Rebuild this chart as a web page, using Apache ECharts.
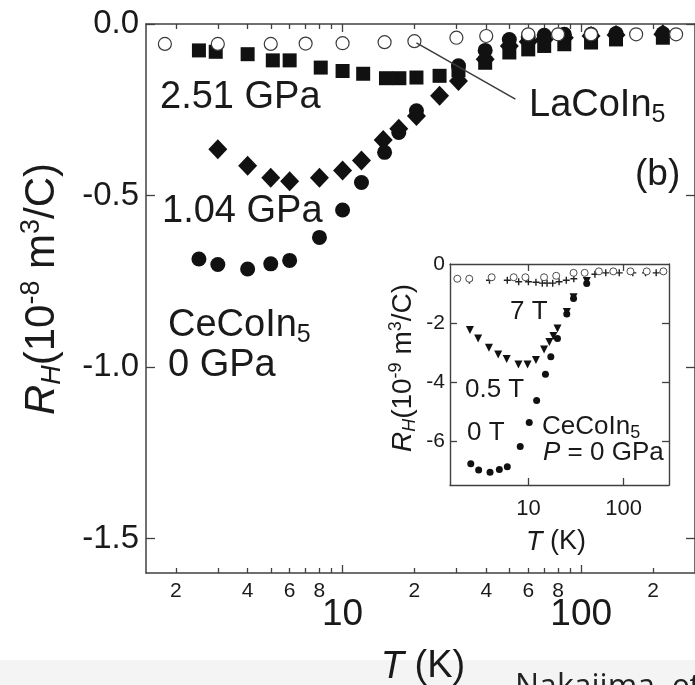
<!DOCTYPE html>
<html>
<head>
<meta charset="utf-8">
<script src="https://cdn.jsdelivr.net/npm/echarts@6/dist/echarts.min.js"></script>
<style>
html, body { margin: 0; padding: 0; background: #fff; }
#main { width: 695px; height: 685px; }
</style>
</head>
<body>
<div id="main"></div>
<script>
// ---- main panel (b): R_H (1e-8 m3/C) vs T (K) ----
var laT = [1.8, 3, 5, 7, 10, 15, 20, 30, 40, 60, 80, 110, 170, 250];
var laR = [-0.058, -0.058, -0.058, -0.057, -0.056, -0.053, -0.05, -0.04, -0.035, -0.03, -0.03, -0.03, -0.03, -0.03];

var p251T = [2.5, 2.94, 4.0, 5.1, 6.0, 8.1, 10, 12.2, 15.2, 17.3, 20.4, 25.5, 30.6, 39.6, 50, 60, 70, 85, 110, 140, 220];
var p251R = [-0.077, -0.081, -0.088, -0.106, -0.106, -0.127, -0.137, -0.145, -0.158, -0.158, -0.156, -0.151, -0.135, -0.113, -0.083, -0.074, -0.064, -0.059, -0.054, -0.045, -0.04];

var p104T = [3.0, 4.0, 5.0, 6.0, 8.0, 10, 12, 14.8, 17.2, 20.4, 25.5, 30.6, 39.6, 50, 60, 70, 85, 110, 140, 220];
var p104R = [-0.365, -0.413, -0.448, -0.458, -0.448, -0.427, -0.398, -0.338, -0.305, -0.268, -0.209, -0.166, -0.103, -0.064, -0.052, -0.045, -0.04, -0.035, -0.032, -0.03];

var p0T = [2.5, 3.0, 4.0, 5.0, 6.0, 8.0, 10, 12, 15, 17.2, 20.4, 30.6, 39.6, 50, 60, 70, 85, 110, 140, 220];
var p0R = [-0.685, -0.701, -0.714, -0.699, -0.689, -0.622, -0.542, -0.462, -0.374, -0.316, -0.253, -0.122, -0.077, -0.045, -0.038, -0.033, -0.03, -0.03, -0.028, -0.028];

// ---- inset: CeCoIn5, P = 0 GPa, R_H (1e-9 m3/C) ----
var in0T = [2.48, 3.0, 3.95, 4.95, 6.0, 8.2, 10.2, 12.2, 15.1, 17.2, 20.2, 25.3, 29.8, 41];
var in0R = [-6.78, -6.99, -7.07, -6.97, -6.88, -6.19, -5.38, -4.63, -3.74, -3.15, -2.53, -1.70, -1.17, -0.66];
var in05T = [2.43, 2.96, 3.85, 4.81, 5.91, 7.85, 9.8, 12.0, 14.6, 16.6, 18.3, 20.2, 25.3, 29.8, 41];
var in05R = [-2.24, -2.53, -2.84, -3.07, -3.22, -3.41, -3.41, -3.26, -2.90, -2.65, -2.44, -2.19, -1.63, -1.13, -0.58];
var in7T = [2.4, 3.9, 6.0, 7.9, 10, 12, 14, 15.7, 18, 21, 25, 30, 50, 65, 90, 125, 170, 220];
var in7R = [-0.55, -0.55, -0.55, -0.6, -0.6, -0.62, -0.65, -0.65, -0.65, -0.6, -0.55, -0.5, -0.35, -0.3, -0.3, -0.3, -0.3, -0.3];
var inLaT = [1.79, 2.39, 4.11, 7.0, 9.3, 14.6, 19.6, 29.8, 39, 55, 78, 118, 175, 262];
var inLaR = [-0.5, -0.5, -0.45, -0.45, -0.45, -0.45, -0.4, -0.3, -0.3, -0.25, -0.25, -0.25, -0.25, -0.25];

// tick positions
var minorTicks = [2, 3, 4, 5, 6, 7, 8, 9, 20, 30, 40, 50, 60, 70, 80, 90, 200];
var smallLabels = [2, 4, 6, 8, 20, 40, 60, 80, 200];
var decadeTicks = [10, 100];
var mainYTicks = [0, -0.5, -1.0, -1.5];
var insetYTicks = [-2, -4, -6];
var insetYLabels = [0, -2, -4, -6];

function pairs(xs, ys) {
    var out = [];
    for (var i = 0; i < xs.length; i++) out.push([xs[i], ys[i]]);
    return out;
}

var FONT = 'Liberation Sans, Arial, sans-serif';
var INK = '#1a1a1a';
var LINE = '#404040';
var DOT = '#111';

function xLog(grid, pos, ticks, len, extra) {
    var ax = {
        type: 'log', logBase: 10, gridIndex: grid, position: pos,
        min: 1.5, max: 300,
        axisLine: { show: true, onZero: false, lineStyle: { color: LINE, width: 1.5 } },
        axisTick: { show: true, inside: true, length: len, customValues: ticks, lineStyle: { color: LINE, width: 1.3 } },
        axisLabel: { show: false },
        splitLine: { show: false },
        minorTick: { show: false }
    };
    for (var k in extra) ax[k] = extra[k];
    return ax;
}

function yVal(grid, pos, min, ticks, len, width, label) {
    return {
        type: 'value', gridIndex: grid, position: pos, min: min, max: 0,
        axisLine: { show: true, onZero: false, lineStyle: { color: LINE, width: width } },
        axisTick: { show: true, inside: true, length: len, customValues: ticks, lineStyle: { color: LINE, width: 1.3 } },
        axisLabel: label || { show: false },
        splitLine: { show: false }
    };
}

function leadDigit(v) {
    var p = Math.pow(10, Math.floor(Math.log10(v) + 1e-9));
    return String(Math.round(v / p));
}

var dom = document.getElementById('main');
var myChart = echarts.init(dom, null, { renderer: 'canvas' });

var option = {
    animation: false,
    backgroundColor: '#fff',
    grid: [
        { left: 146, top: 24, width: 550, height: 549, containLabel: false },
        { left: 450, top: 264, width: 219, height: 221, show: true, backgroundColor: '#fff', borderWidth: 0, containLabel: false }
    ],
    xAxis: [
        xLog(0, 'bottom', minorTicks, 5, {
            axisLabel: { show: true, customValues: smallLabels, formatter: leadDigit, fontSize: 21, color: INK, fontFamily: FONT, margin: 8 }
        }),
        xLog(0, 'bottom', decadeTicks, 8, {
            axisLine: { show: false, onZero: false },
            axisLabel: { show: true, customValues: decadeTicks, fontSize: 37, color: INK, fontFamily: FONT, margin: 23 }
        }),
        xLog(0, 'top', minorTicks, 5, {}),
        xLog(0, 'top', decadeTicks, 8, { axisLine: { show: false, onZero: false } }),
        xLog(1, 'bottom', decadeTicks, 7, {
            axisLine: { show: true, onZero: false, lineStyle: { color: LINE, width: 1.4 } },
            axisLabel: { show: true, customValues: decadeTicks, fontSize: 22, color: INK, fontFamily: FONT, margin: 13 }
        }),
        xLog(1, 'top', decadeTicks, 7, { axisLine: { show: true, onZero: false, lineStyle: { color: LINE, width: 1.4 } } })
    ],
    yAxis: [
        yVal(0, 'left', -1.6, mainYTicks, 9, 1.5, {
            show: true, customValues: mainYTicks, fontSize: 33, color: INK, fontFamily: FONT, margin: 7,
            formatter: function (v) { return v.toFixed(1); }
        }),
        yVal(0, 'right', -1.6, mainYTicks, 9, 1.5),
        yVal(1, 'left', -7.5, insetYTicks, 7, 1.4, {
            show: true, customValues: insetYLabels, fontSize: 21, color: INK, fontFamily: FONT, margin: 5
        }),
        yVal(1, 'right', -7.5, insetYTicks, 7, 1.4)
    ],
    series: [
        {
            name: '2.51 GPa', type: 'scatter', xAxisIndex: 0, yAxisIndex: 0,
            symbol: 'rect', symbolSize: 14, itemStyle: { color: DOT, opacity: 1 },
            data: pairs(p251T, p251R), z: 2
        },
        {
            name: '1.04 GPa', type: 'scatter', xAxisIndex: 0, yAxisIndex: 0,
            symbol: 'diamond', symbolSize: [19, 20], itemStyle: { color: DOT, opacity: 1 },
            data: pairs(p104T, p104R), z: 2
        },
        {
            name: '0 GPa', type: 'scatter', xAxisIndex: 0, yAxisIndex: 0,
            symbol: 'circle', symbolSize: 15, itemStyle: { color: DOT, opacity: 1 },
            data: pairs(p0T, p0R), z: 2
        },
        {
            name: 'LaCoIn5', type: 'scatter', xAxisIndex: 0, yAxisIndex: 0,
            symbol: 'circle', symbolSize: 13,
            itemStyle: { color: '#fff', borderColor: '#3a3a3a', borderWidth: 1.2, opacity: 1 },
            data: pairs(laT, laR), z: 3,
            markLine: {
                silent: true, symbol: ['none', 'none'],
                label: { show: false },
                lineStyle: { color: '#3a3a3a', width: 1.5, type: 'solid' },
                data: [[{ coord: [20.4, -0.055] }, { coord: [53, -0.219] }]]
            }
        },
        {
            name: 'in 0 T', type: 'scatter', xAxisIndex: 4, yAxisIndex: 2,
            symbol: 'circle', symbolSize: 7, itemStyle: { color: DOT, opacity: 1 },
            data: pairs(in0T, in0R), z: 4
        },
        {
            name: 'in 0.5 T', type: 'scatter', xAxisIndex: 4, yAxisIndex: 2,
            symbol: 'triangle', symbolRotate: 180, symbolSize: 8, itemStyle: { color: DOT, opacity: 1 },
            data: pairs(in05T, in05R), z: 4
        },
        {
            name: 'in 7 T', type: 'scatter', xAxisIndex: 4, yAxisIndex: 2,
            symbol: 'path://M4,0h2v10h-2z M0,4h10v2h-10z', symbolSize: 7, itemStyle: { color: '#222', opacity: 1 },
            data: pairs(in7T, in7R), z: 4
        },
        {
            name: 'in LaCoIn5', type: 'scatter', xAxisIndex: 4, yAxisIndex: 2,
            symbol: 'circle', symbolSize: 7,
            itemStyle: { color: '#fff', borderColor: '#3a3a3a', borderWidth: 0.9, opacity: 1 },
            data: pairs(inLaT, inLaR), z: 4
        }
    ],
    graphic: [
        { type: 'rect', left: 0, top: 660, z: -10, shape: { width: 695, height: 25 }, style: { fill: '#f4f4f4' } },
        { type: 'text', x: 515, y: 672, z: 1, style: { text: 'Nakajima, et', font: '32px "Open Sans", sans-serif', fill: '#222' } },
        { type: 'text', x: 160, y: 98, style: { text: '2.51 GPa', font: '38px ' + FONT, fill: INK, verticalAlign: 'middle' } },
        { type: 'text', x: 162, y: 212, style: { text: '1.04 GPa', font: '38px ' + FONT, fill: INK, verticalAlign: 'middle' } },
        {
            type: 'text', x: 168, y: 326,
            style: {
                text: '{n|CeCoIn}{s|5}', verticalAlign: 'middle', fill: INK,
                rich: {
                    n: { fontSize: 38, fontFamily: FONT, lineHeight: 44, color: INK },
                    s: { fontSize: 25, fontFamily: FONT, lineHeight: 22, verticalAlign: 'bottom', color: INK }
                }
            }
        },
        { type: 'text', x: 168, y: 366, style: { text: '0 GPa', font: '38px ' + FONT, fill: INK, verticalAlign: 'middle' } },
        { type: 'text', x: 635, y: 175, style: { text: '(b)', font: '37px ' + FONT, fill: INK, verticalAlign: 'middle' } },
        {
            type: 'text', x: 529, y: 106,
            style: {
                text: '{n|LaCoIn}{s|5}', verticalAlign: 'middle', fill: INK,
                rich: {
                    n: { fontSize: 38, fontFamily: FONT, lineHeight: 44, color: INK },
                    s: { fontSize: 25, fontFamily: FONT, lineHeight: 22, verticalAlign: 'bottom', color: INK }
                }
            }
        },
        {
            type: 'text', x: 42, y: 289, rotation: Math.PI / 2,
            style: {
                text: '{i|R}{sub|H}{n|(10}{sup|-8}{n| m}{sup|3}{n|/C)}',
                align: 'center', verticalAlign: 'middle', fill: INK,
                rich: {
                    i: { fontSize: 42, fontStyle: 'italic', fontFamily: FONT, lineHeight: 48, color: INK },
                    sub: { fontSize: 27, fontStyle: 'italic', fontFamily: FONT, lineHeight: 23, verticalAlign: 'bottom', color: INK },
                    n: { fontSize: 42, fontFamily: FONT, lineHeight: 48, color: INK },
                    sup: { fontSize: 27, fontFamily: FONT, lineHeight: 25, verticalAlign: 'top', color: INK }
                }
            }
        },
        {
            type: 'text', x: 423, y: 667,
            style: {
                text: '{i|T}{n| (K)}', align: 'center', verticalAlign: 'middle', fill: INK,
                rich: {
                    i: { fontSize: 38, fontStyle: 'italic', fontFamily: FONT, color: INK },
                    n: { fontSize: 38, fontFamily: FONT, color: INK }
                }
            }
        },
        // inset annotations
        { type: 'text', x: 510, y: 312, z: 10, style: { text: '7 T', font: '26px ' + FONT, fill: INK, verticalAlign: 'middle' } },
        { type: 'text', x: 465, y: 390, z: 10, style: { text: '0.5 T', font: '26px ' + FONT, fill: INK, verticalAlign: 'middle' } },
        { type: 'text', x: 467, y: 433, z: 10, style: { text: '0 T', font: '26px ' + FONT, fill: INK, verticalAlign: 'middle' } },
        {
            type: 'text', x: 542, y: 427, z: 10,
            style: {
                text: '{n|CeCoIn}{s|5}', verticalAlign: 'middle', fill: INK,
                rich: {
                    n: { fontSize: 26, fontFamily: FONT, lineHeight: 30, color: INK },
                    s: { fontSize: 18, fontFamily: FONT, lineHeight: 15, verticalAlign: 'bottom', color: INK }
                }
            }
        },
        {
            type: 'text', x: 543, y: 453, z: 10,
            style: {
                text: '{i|P}{n| = 0 GPa}', verticalAlign: 'middle', fill: INK,
                rich: {
                    i: { fontSize: 26, fontStyle: 'italic', fontFamily: FONT, color: INK },
                    n: { fontSize: 26, fontFamily: FONT, color: INK }
                }
            }
        },
        {
            type: 'text', x: 403, y: 368, z: 10, rotation: Math.PI / 2,
            style: {
                text: '{i|R}{sub|H}{n|(10}{sup|-9}{n| m}{sup|3}{n|/C)}',
                align: 'center', verticalAlign: 'middle', fill: INK,
                rich: {
                    i: { fontSize: 28, fontStyle: 'italic', fontFamily: FONT, lineHeight: 32, color: INK },
                    sub: { fontSize: 18, fontStyle: 'italic', fontFamily: FONT, lineHeight: 15, verticalAlign: 'bottom', color: INK },
                    n: { fontSize: 28, fontFamily: FONT, lineHeight: 32, color: INK },
                    sup: { fontSize: 18, fontFamily: FONT, lineHeight: 17, verticalAlign: 'top', color: INK }
                }
            }
        },
        {
            type: 'text', x: 556, y: 542, z: 10,
            style: {
                text: '{i|T}{n| (K)}', align: 'center', verticalAlign: 'middle', fill: INK,
                rich: {
                    i: { fontSize: 27, fontStyle: 'italic', fontFamily: FONT, color: INK },
                    n: { fontSize: 27, fontFamily: FONT, color: INK }
                }
            }
        }
    ]
};

myChart.setOption(option);
</script>
</body>
</html>
